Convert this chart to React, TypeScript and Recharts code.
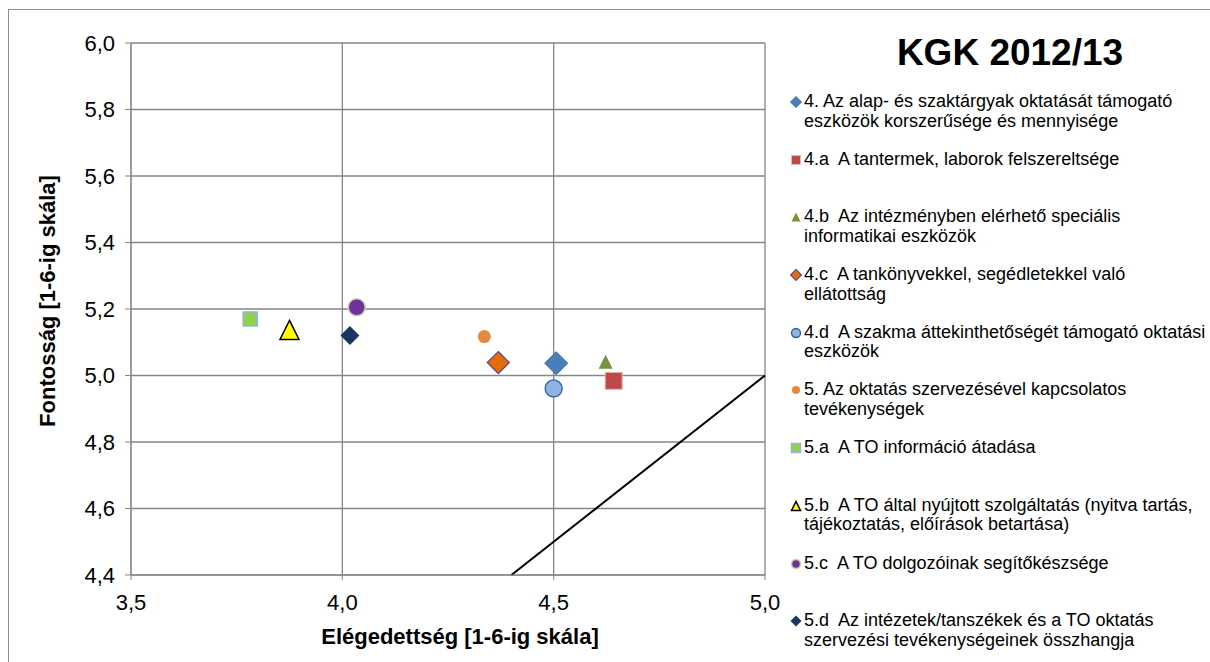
import React from 'react';
import {
  ScatterChart,
  Scatter,
  XAxis,
  YAxis,
  CartesianGrid,
  ReferenceLine,
  Legend,
  Label
} from 'recharts';

// Elégedettség (x) és fontosság (y) kérdéscsoportonként
const seriesLabels = [
  '4. Az alap- és szaktárgyak oktatását támogató\neszközök korszerűsége és mennyisége',
  '4.a  A tantermek, laborok felszereltsége',
  '4.b  Az intézményben elérhető speciális\ninformatikai eszközök',
  '4.c  A tankönyvekkel, segédletekkel való\nellátottság',
  '4.d  A szakma áttekinthetőségét támogató oktatási\neszközök',
  '5. Az oktatás szervezésével kapcsolatos\ntevékenységek',
  '5.a  A TO információ átadása',
  '5.b  A TO által nyújtott szolgáltatás (nyitva tartás,\ntájékoztatás, előírások betartása)',
  '5.c  A TO dolgozóinak segítőkészsége',
  '5.d  Az intézetek/tanszékek és a TO oktatás\nszervezési tevékenységeinek összhangja'
];
const satisfaction = [4.506, 4.642, 4.623, 4.369, 4.5, 4.336, 3.782, 3.875, 4.034, 4.018];
const importance = [5.037, 4.984, 5.041, 5.039, 4.961, 5.117, 5.17, 5.137, 5.205, 5.12];

const xTicks = [3.5, 4.0, 4.5, 5.0];
const yTicks = [4.4, 4.6, 4.8, 5.0, 5.2, 5.4, 5.6, 5.8, 6.0];
// átló: elégedettség = fontosság
const diagonal = [
  { x: 4.4, y: 4.4 },
  { x: 5.0, y: 5.0 }
];

const chartTitle = 'KGK 2012/13';
const xTitle = 'Elégedettség [1-6-ig skála]';
const yTitle = 'Fontosság [1-6-ig skála]';

type Kind = 'diamond' | 'square' | 'triangle' | 'circle';
interface MarkerStyle {
  kind: Kind;
  size: number;
  legendSize: number;
  fill: string;
  stroke: string;
  strokeWidth: number;
}

const markers: MarkerStyle[] = [
  { kind: 'diamond', size: 23, legendSize: 11, fill: '#4A7EBB', stroke: '#3C6A9F', strokeWidth: 1 },
  { kind: 'square', size: 17, legendSize: 9, fill: '#BE4B48', stroke: '#E6B9B8', strokeWidth: 1 },
  { kind: 'triangle', size: 14, legendSize: 9, fill: '#77933C', stroke: 'none', strokeWidth: 0 },
  { kind: 'diamond', size: 22, legendSize: 11, fill: '#E46C0A', stroke: '#604A7B', strokeWidth: 1.2 },
  { kind: 'circle', size: 17, legendSize: 9, fill: '#8EB4E3', stroke: '#2C5D98', strokeWidth: 1.3 },
  { kind: 'circle', size: 13, legendSize: 8, fill: '#E38A3F', stroke: 'none', strokeWidth: 0 },
  { kind: 'square', size: 14, legendSize: 9, fill: '#92D050', stroke: '#95B3D7', strokeWidth: 1.5 },
  { kind: 'triangle', size: 19, legendSize: 9, fill: '#FFFF00', stroke: '#000000', strokeWidth: 1.5 },
  { kind: 'circle', size: 17, legendSize: 9, fill: '#7030A0', stroke: '#C3D69B', strokeWidth: 1.5 },
  { kind: 'diamond', size: 19, legendSize: 11, fill: '#17375E', stroke: 'none', strokeWidth: 0 }
];

const FONT = '"Liberation Sans", Arial, sans-serif';
const GRID = '#868686';

function drawMarker(m: MarkerStyle, cx: number, cy: number, s: number) {
  const h = s / 2;
  const common = { fill: m.fill, stroke: m.stroke, strokeWidth: m.strokeWidth };
  if (m.kind === 'circle') return <circle cx={cx} cy={cy} r={h} {...common} />;
  if (m.kind === 'square') return <rect x={cx - h} y={cy - h} width={s} height={s} {...common} />;
  if (m.kind === 'triangle')
    return <path d={`M${cx},${cy - h}L${cx + h},${cy + h}L${cx - h},${cy + h}Z`} {...common} />;
  return <path d={`M${cx},${cy - h}L${cx + h},${cy}L${cx},${cy + h}L${cx - h},${cy}Z`} {...common} />;
}

const comma = (v: number) => v.toFixed(1).replace('.', ',');

const LegendList = () => (
  <div style={{ fontFamily: FONT, fontSize: 18, color: '#000' }}>
    {seriesLabels.map((label, i) => (
      <div key={i} style={{ height: 57.7, display: 'flex', alignItems: 'flex-start' }}>
        <svg width={14} height={19.5} style={{ flex: 'none' }}>
          {drawMarker(markers[i], 6, 10, markers[i].legendSize)}
        </svg>
        <div style={{ whiteSpace: 'pre', lineHeight: '19.5px' }}>{label}</div>
      </div>
    ))}
  </div>
);

export default function App() {
  return (
    <div style={{ position: 'absolute', left: 0, top: 0, width: 1210, height: 662, overflow: 'hidden', background: '#fff' }}>
      <div
        style={{
          position: 'absolute',
          left: 8,
          top: 9,
          width: 1300,
          height: 800,
          borderLeft: '1px solid #8c8c8c',
          borderTop: '1px solid #8c8c8c'
        }}
      />
      <ScatterChart
        width={1210}
        height={662}
        margin={{ top: 43, right: 445, bottom: 27, left: 51 }}
        style={{ fontFamily: FONT }}
      >
        <CartesianGrid stroke={GRID} strokeWidth={1.3} />
        <XAxis
          type="number"
          dataKey="x"
          domain={[3.5, 5.0]}
          ticks={xTicks}
          tickFormatter={comma}
          allowDataOverflow
          height={60}
          stroke={GRID}
          tickSize={5}
          tickMargin={14}
          tick={{ fill: '#000', fontSize: 22 }}
        >
          <Label
            value={xTitle}
            position="insideBottom"
            offset={-9}
            dx={12}
            style={{ fontWeight: 'bold', fontSize: 22, fill: '#000' }}
          />
        </XAxis>
        <YAxis
          type="number"
          dataKey="y"
          domain={[4.4, 6.0]}
          ticks={yTicks}
          tickFormatter={comma}
          allowDataOverflow
          width={80}
          stroke={GRID}
          tickSize={6}
          tickMargin={10}
          tick={{ fill: '#000', fontSize: 22 }}
        >
          <Label
            value={yTitle}
            angle={-90}
            position="insideLeft"
            offset={-4}
            dy={-8}
            style={{ fontWeight: 'bold', fontSize: 22, fill: '#000', textAnchor: 'middle' }}
          />
        </YAxis>
        <ReferenceLine segment={diagonal} stroke="#000" strokeWidth={2} />
        {seriesLabels.map((label, i) => (
          <Scatter
            key={i}
            name={label}
            data={[{ x: satisfaction[i], y: importance[i] }]}
            isAnimationActive={false}
            shape={(p: any) => drawMarker(markers[i], p.cx, p.cy, markers[i].size)}
          />
        ))}
        <Legend
          layout="horizontal"
          verticalAlign="middle"
          align="center"
          content={() => <LegendList />}
          wrapperStyle={{ left: 790, top: 92, width: 420, height: 570 }}
        />
      </ScatterChart>
      <div
        style={{
          position: 'absolute',
          left: 790,
          top: 30,
          width: 440,
          textAlign: 'center',
          fontFamily: FONT,
          fontSize: 37,
          fontWeight: 'bold',
          lineHeight: '46px'
        }}
      >
        {chartTitle}
      </div>
    </div>
  );
}
